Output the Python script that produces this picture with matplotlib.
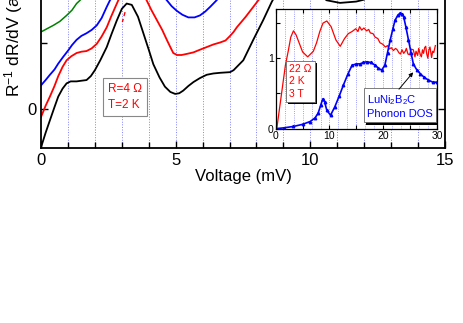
import numpy as np
import matplotlib
matplotlib.use('Agg')
import matplotlib.pyplot as plt
import matplotlib.patheffects as pe

plt.rcParams['font.family'] = ['Liberation Sans', 'DejaVu Sans']
plt.rcParams['mathtext.fontset'] = 'custom'
plt.rcParams['mathtext.rm'] = 'Liberation Sans'
plt.rcParams['mathtext.default'] = 'regular'

# Main panel curves (voltage in mV, normalized dR/dV, offset)
v_black = [0.0, 0.17, 0.33, 0.5, 0.64, 0.8, 0.95, 1.1, 1.32, 1.5, 1.69, 1.85, 2.0, 2.2,
           2.44, 2.62, 2.81, 3.0, 3.18, 3.37, 3.6, 3.8, 4.0, 4.17, 4.4, 4.6, 4.8,
           4.98, 5.13, 5.28, 5.47, 5.66, 5.9, 6.15, 6.4, 6.65, 7.02, 7.15, 7.27,
           7.51, 7.88, 8.25, 8.56, 9.0, 9.6, 10.2, 10.6, 11.1, 11.7, 12.0, 12.5]
y_black = [-0.58, -0.36, -0.17, 0.03, 0.19, 0.31, 0.39, 0.42, 0.42, 0.43, 0.44, 0.5, 0.59,
           0.74, 0.94, 1.14, 1.34, 1.52, 1.6, 1.58, 1.4, 1.15, 0.9, 0.68, 0.48, 0.34,
           0.26, 0.23, 0.24, 0.28, 0.35, 0.41, 0.47, 0.52, 0.54, 0.55, 0.56, 0.59,
           0.64, 0.74, 1.05, 1.35, 1.62, 1.95, 2.05, 1.8, 1.65, 1.61, 1.63, 1.66, 1.85]

v_red = [0.0, 0.17, 0.33, 0.5, 0.64, 0.8, 0.95, 1.12, 1.32, 1.5, 1.69, 1.88, 2.07,
         2.25, 2.44, 2.6, 2.75, 2.87, 3.4, 3.92, 4.1, 4.3, 4.5, 4.67, 4.8, 4.91,
         5.05, 5.22, 5.45, 5.66, 5.9, 6.15, 6.4, 6.65, 6.85, 7.02, 7.15, 7.27,
         7.6, 8.07, 8.4]
y_red = [-0.12, 0.05, 0.19, 0.35, 0.5, 0.64, 0.74, 0.8, 0.85, 0.87, 0.88, 0.92, 0.99,
         1.1, 1.24, 1.4, 1.54, 1.65, 2.0, 1.65, 1.5, 1.35, 1.2, 1.05, 0.94, 0.85,
         0.82, 0.82, 0.84, 0.86, 0.9, 0.94, 0.98, 1.01, 1.04, 1.11, 1.17, 1.24,
         1.4, 1.65, 1.85]

v_blue = [0.0, 0.17, 0.33, 0.5, 0.64, 0.82, 1.01, 1.15, 1.32, 1.5, 1.69, 1.88, 2.07,
          2.25, 2.44, 2.56, 3.5, 4.67, 4.85, 5.04, 5.25, 5.47, 5.7, 5.9, 6.1, 6.28,
          6.52, 6.8]
y_blue = [0.36, 0.44, 0.52, 0.6, 0.69, 0.79, 0.89, 0.97, 1.05, 1.11, 1.15, 1.2, 1.27,
          1.38, 1.55, 1.65, 2.2, 1.65, 1.56, 1.49, 1.43, 1.39, 1.39, 1.42, 1.48, 1.55,
          1.65, 1.8]

v_green = [0.0, 0.23, 0.46, 0.7, 0.95, 1.15, 1.32, 1.45, 1.7]
y_green = [1.17, 1.22, 1.27, 1.33, 1.42, 1.5, 1.6, 1.65, 1.8]

v_mark = [3.12, 3.02]
y_mark = [1.47, 1.32]

# Inset: point-contact spectrum (red) and phonon DOS (blue), energy in meV
e_red = [0.2, 1.0, 1.8, 2.35, 2.8, 3.3, 3.8, 4.2, 5.0, 5.95, 7.0, 7.6, 8.2, 8.8, 9.5,
         10.3, 11.2, 12.0, 12.8, 13.5, 14.2, 14.9, 15.3, 15.6, 16.0, 16.4, 16.9,
         17.3, 17.6, 18.1, 18.5, 19.0, 19.4, 19.9, 20.4, 20.8, 21.1, 21.5, 21.9,
         22.3, 22.6, 22.9, 23.2, 23.5, 23.8, 24.1, 24.3, 24.6, 24.9, 25.2, 25.6,
         25.9, 26.1, 26.4, 26.6, 26.9, 27.1, 27.3, 27.5, 27.7, 27.9, 28.1, 28.3,
         28.5, 28.7, 29.0, 29.2, 29.4, 29.7]
d_red = [0.0, 0.45, 0.9, 1.11, 1.3, 1.39, 1.33, 1.25, 1.09, 1.02, 1.1, 1.22, 1.38, 1.5,
         1.53, 1.45, 1.26, 1.17, 1.28, 1.35, 1.38, 1.42, 1.38, 1.45, 1.4, 1.43, 1.39,
         1.41, 1.36, 1.35, 1.3, 1.28, 1.22, 1.2, 1.16, 1.18, 1.13, 1.15, 1.11,
         1.14, 1.12, 1.08, 1.06, 1.12, 1.07, 1.1, 1.14, 1.06, 1.05, 1.13, 1.12,
         1.02, 1.1, 1.04, 1.14, 1.05, 1.02, 1.12, 1.07, 1.15, 1.17, 1.06, 1.0,
         1.12, 1.16, 1.01, 1.1, 1.08, 1.18]

e_dos = [0.2, 1.5, 3.3, 5.0, 6.4, 7.3, 7.9, 8.4, 8.75, 9.1, 9.5, 10.2, 11.0, 11.8,
         12.6, 13.4, 14.2, 15.0, 15.7, 16.3, 16.9, 17.7, 18.5, 19.1, 19.7, 20.3,
         20.8, 21.3, 21.8, 22.2, 22.7, 23.1, 23.5, 23.8, 24.2, 24.7, 25.2, 25.6,
         26.2, 26.9, 27.6, 28.4, 29.2, 30.0]
d_dos = [0.0, 0.01, 0.03, 0.06, 0.1, 0.15, 0.22, 0.34, 0.42, 0.38, 0.26, 0.19, 0.31, 0.46,
         0.62, 0.77, 0.9, 0.92, 0.92, 0.94, 0.95, 0.94, 0.9, 0.86, 0.83, 0.9,
         1.08, 1.26, 1.42, 1.54, 1.61, 1.64, 1.63, 1.59, 1.45, 1.26, 1.07, 0.92,
         0.84, 0.78, 0.73, 0.69, 0.66, 0.66]

fig = plt.figure(figsize=(4.63, 3.23), dpi=100)
ax = fig.add_axes([0.0886, 0.5418, 0.8726, 0.7678])

for v in range(1, 15):
    ax.axvline(v, color='#7f7fff', linestyle=':', linewidth=0.7, zorder=0)

ax.plot(v_black, y_black, color='k', lw=1.3)
ax.plot(v_red, y_red, color='#ff0000', lw=1.3)
ax.plot(v_blue, y_blue, color='#0000ff', lw=1.3)
ax.plot(v_green, y_green, color='#008000', lw=1.1)
ax.plot(v_mark, y_mark, color='#ff0000', lw=1.0, linestyle=(0, (3, 2)))

ax.set_xlim(0, 15)
ax.set_ylim(-0.59, 3.17)
ax.set_xticks([0, 5, 10, 15])
ax.set_xticks(np.arange(0, 16, 1), minor=True)
ax.set_yticks([0, 2])
ax.set_yticks([0, 1, 2, 3], minor=True)
ax.tick_params(which='both', direction='in', top=True, right=True, labelsize=12,
               width=1.0)
ax.tick_params(which='major', length=5)
ax.tick_params(which='minor', length=4)
for s in ax.spines.values():
    s.set_linewidth(1.3)
ax.set_xlabel('Voltage (mV)', fontsize=12, labelpad=1)
ax.set_ylabel('R$^{-1}$ dR/dV (arb. units)', fontsize=12.5)
ax.yaxis.set_label_coords(-0.04, 0.545)

ax.text(3.12, 0.18, 'R=4 \u03a9\nT=2 K', color='#ff0000', fontsize=8.5,
        ha='center', va='center', multialignment='left', linespacing=1.5,
        bbox=dict(boxstyle='square,pad=0.4', fc='white', ec='#888888', lw=0.8))

# Inset
axi = fig.add_axes([0.5955, 0.602, 0.3483, 0.370])
axi.set_facecolor('white')
for e in np.arange(5 / 3, 30, 5 / 3):
    axi.axvline(e, color='#7f7fff', linestyle=':', linewidth=0.6, zorder=0)
axi.plot(e_red, d_red, color='#ff0000', lw=0.9)
axi.plot(e_dos, d_dos, color='#0000ff', lw=1.2, marker='^', markersize=1.8)
axi.set_xlim(0, 30)
axi.set_ylim(0, 1.7)
axi.set_xticks([0, 10, 20, 30])
axi.set_xticks(np.arange(0, 31, 5), minor=True)
axi.set_yticks([0, 1])
axi.set_yticks([0, 0.5, 1, 1.5], minor=True)
axi.tick_params(which='both', direction='in', top=True, right=True, labelsize=7.5,
                length=3, width=0.8, pad=1.5)
for s in axi.spines.values():
    s.set_linewidth(0.9)

shadow = [pe.withSimplePatchShadow(offset=(1.5, -1.5), shadow_rgbFace='k', alpha=1.0)]
t1 = axi.text(4.6, 0.67, '22 \u03a9\n2 K\n3 T', color='#ff0000', fontsize=7.5,
              ha='center', va='center', multialignment='left', linespacing=1.3,
              bbox=dict(boxstyle='square,pad=0.3', fc='white', ec='#666666', lw=0.6))
t1.get_bbox_patch().set_path_effects(shadow)
t2 = axi.text(23.1, 0.32, 'LuNi$_2$B$_2$C\nPhonon DOS', color='#0000ff', fontsize=8,
              ha='center', va='center', multialignment='left', linespacing=1.3,
              bbox=dict(boxstyle='square,pad=0.3', fc='white', ec='#666666', lw=0.6))
t2.get_bbox_patch().set_path_effects(shadow)
axi.annotate('', xy=(25.9, 0.83), xytext=(22.6, 0.53),
             arrowprops=dict(arrowstyle='-|>', color='k', lw=0.7,
                             mutation_scale=6))

fig.savefig('out.png', dpi=100)
